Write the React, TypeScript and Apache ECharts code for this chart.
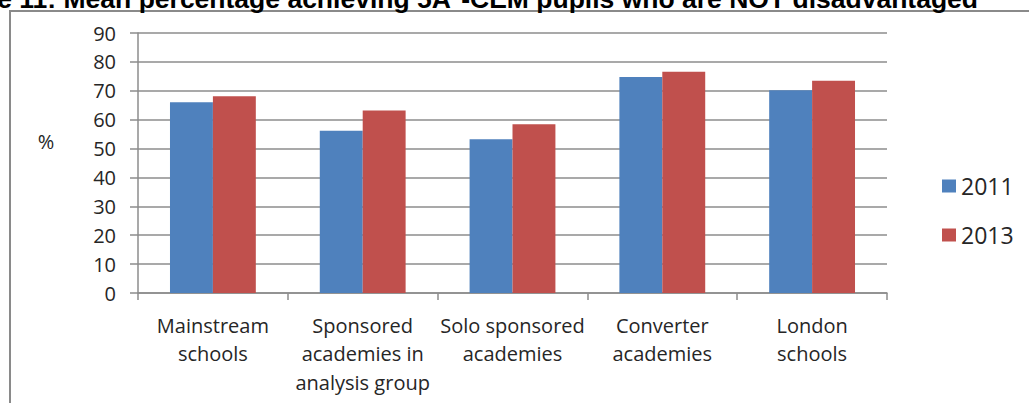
import React, { useEffect, useRef } from "react";
import * as echarts from "echarts";

const categories = [
  "Mainstream\nschools",
  "Sponsored\nacademies in\nanalysis group",
  "Solo sponsored\nacademies",
  "Converter\nacademies",
  "London\nschools",
];
const seriesNames = ["2011", "2013"];
const values2011 = [66.0, 56.2, 53.2, 74.8, 70.2];
const values2013 = [68.1, 63.2, 58.4, 76.6, 73.5];
const yTicks = { min: 0, max: 90, interval: 10 };
const titleText =
  "Figure 11: Mean percentage achieving 5A*-CEM pupils who are NOT disadvantaged";
const yUnit = "%";

const BLUE = "#4F81BD";
const RED = "#C0504D";
const GRID = "#8c8c8c";
const TEXT = "#262626";
const FONT = "Open Sans";

export default function App() {
  const ref = useRef<HTMLDivElement>(null);
  useEffect(() => {
    document.body.style.margin = "0";
    const chart = echarts.init(ref.current!, null, { renderer: "svg" });
    chart.setOption({
      animation: false,
      backgroundColor: "#ffffff",
      grid: { left: 138, right: 142, top: 33, bottom: 110, containLabel: false },
      legend: {
        orient: "vertical",
        left: 942,
        top: 174,
        padding: 0,
        itemWidth: 14,
        itemHeight: 13,
        itemGap: 25,
        icon: "rect",
        data: seriesNames,
        textStyle: { fontFamily: FONT, fontSize: 23, color: TEXT, lineHeight: 24 },
      },
      xAxis: {
        type: "category",
        data: categories,
        axisLine: { show: true, lineStyle: { color: GRID, width: 1.5 } },
        axisTick: { show: true, length: 7, lineStyle: { color: GRID, width: 1.5 } },
        axisLabel: {
          fontFamily: FONT,
          fontSize: 20,
          color: TEXT,
          lineHeight: 28.5,
          margin: 18,
          interval: 0,
        },
      },
      yAxis: {
        type: "value",
        min: yTicks.min,
        max: yTicks.max,
        interval: yTicks.interval,
        axisLine: { show: true, lineStyle: { color: GRID, width: 1.5 } },
        axisTick: { show: true, length: 8, lineStyle: { color: GRID, width: 1.5 } },
        splitLine: { show: true, lineStyle: { color: GRID, width: 1.5 } },
        axisLabel: { fontFamily: FONT, fontSize: 20, color: TEXT, margin: 22 },
      },
      series: [
        {
          name: seriesNames[0],
          type: "bar",
          data: values2011,
          itemStyle: { color: BLUE },
          barGap: "0%",
          barCategoryGap: "42.7%",
        },
        {
          name: seriesNames[1],
          type: "bar",
          data: values2013,
          itemStyle: { color: RED },
          barGap: "0%",
          barCategoryGap: "42.7%",
        },
      ],
      graphic: [
        {
          type: "rect",
          shape: { x: 10, y: 11, width: 1200, height: 600 },
          style: { fill: "none", stroke: "#8a8a8a", lineWidth: 2 },
          silent: true,
        },
        {
          type: "text",
          x: 978,
          y: -1.5,
          style: {
            text: titleText,
            fontFamily: "Liberation Sans",
            fontWeight: "bold",
            fontSize: 26.5,
            fill: "#000000",
            align: "right",
            verticalAlign: "middle",
          },
        },
        {
          type: "text",
          x: 46,
          y: 141,
          style: {
            text: yUnit,
            fontFamily: FONT,
            fontSize: 20,
            fill: TEXT,
            align: "center",
            verticalAlign: "middle",
          },
        },
      ],
    });
    return () => chart.dispose();
  }, []);
  return <div ref={ref} style={{ width: 1029, height: 403 }} />;
}
